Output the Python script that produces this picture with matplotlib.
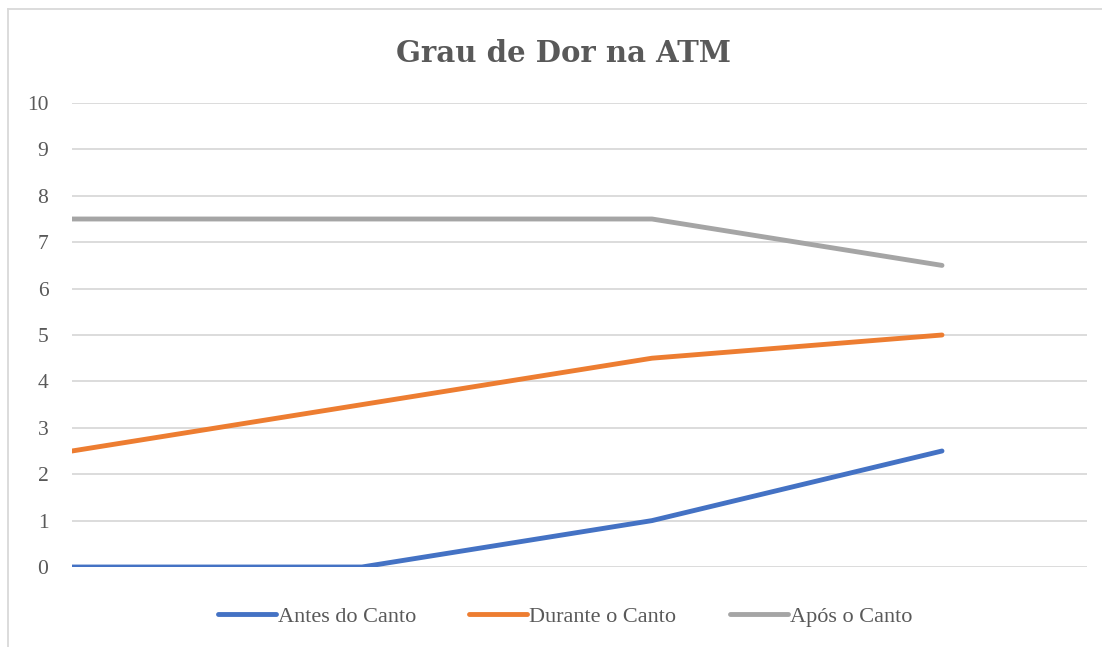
import matplotlib
matplotlib.use("Agg")
import matplotlib.pyplot as plt
from matplotlib.lines import Line2D

# data
points = [0, 1, 2, 3]
antes = [0, 0, 1, 2.5]
durante = [2.5, 3.5, 4.5, 5]
apos = [7.5, 7.5, 7.5, 6.5]
labels = ["Antes do Canto", "Durante o Canto", "Após o Canto"]
colors = ["#4472C4", "#ED7D31", "#A5A5A5"]
yticks = list(range(0, 11))

plt.rcParams['font.family'] = ['Liberation Serif', 'DejaVu Serif']

fig = plt.figure(figsize=(11.02, 6.47), dpi=100)
ax = fig.add_axes([72/1102, 1-567/647, (1087-72)/1102, (567-103)/647])

for ys, lab, c in zip([antes, durante, apos], labels, colors):
	ax.plot(points, ys, color=c, lw=3.5, label=lab, solid_capstyle='round', zorder=3)

ax.set_xlim(0, 3.5)
ax.set_ylim(0, 10)
ax.set_yticks(yticks)
ax.set_xticks([])
ax.yaxis.grid(True, color="#D9D9D9", lw=1.3)
ax.set_axisbelow(True)
for s in ax.spines.values():
	s.set_visible(False)
ax.tick_params(axis='y', length=0, pad=17, labelsize=15.5, labelcolor="#595959")

fig.text(0.511, 1-54/647, "Grau de Dor na ATM", ha='center', va='center',
	fontsize=21, fontweight='bold', color="#595959", family=['DejaVu Serif'])

leg = fig.legend(loc='center', bbox_to_anchor=(565/1102, 1-617/647), ncol=3,
	frameon=False, fontsize=16, handlelength=2.6, handletextpad=0.1, columnspacing=2.4)
for t in leg.get_texts():
	t.set_color("#595959")

# outer chart border (only top and left visible in the crop)
fig.add_artist(Line2D([8/1102, 8/1102], [0, 1-9/647], transform=fig.transFigure, color="#D9D9D9", lw=1.3))
fig.add_artist(Line2D([8/1102, 1], [1-9/647, 1-9/647], transform=fig.transFigure, color="#D9D9D9", lw=1.3))

fig.savefig("out.png", dpi=100)
